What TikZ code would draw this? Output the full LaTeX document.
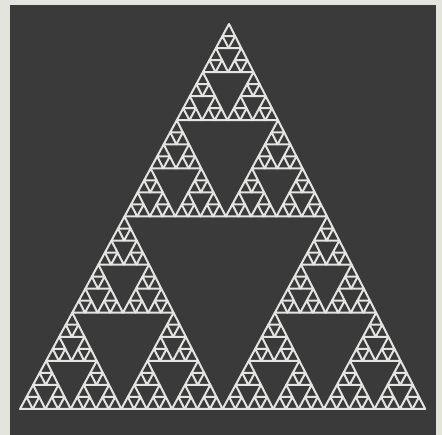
\documentclass[tikz,border=0pt]{standalone}
\usepackage{tikz}
\usepackage{xcolor}

\definecolor{paper}{HTML}{E4E4DE}
\definecolor{board}{HTML}{3A3A3A}
\definecolor{chalk}{HTML}{E4E4E2}

\begin{document}
\begin{tikzpicture}[x=1pt,y=-1pt,
    tri/.style={draw=chalk,line width=2pt,line join=round}]
  \useasboundingbox (0,0) rectangle (442,435);
  \fill[paper] (0,0) rectangle (442,435);
  \fill[board] (10,5) rectangle (436,435);

  % smallest triangles, one shift per level
  \begin{scope}[shift={(229,24)},x={(6.33pt,0pt)},y={(-0.2pt,-12.03pt)}]
    \foreach \ax/\ay in {0/0,-1/1,1/1}
    \foreach \bx/\by in {0/0,-1/1,1/1}
    \foreach \cx/\cy in {0/0,-1/1,1/1}
    \foreach \dx/\dy in {0/0,-1/1,1/1}
    \foreach \ex/\ey in {0/0,-1/1,1/1}
      \draw[tri,shift={(16*\ax+8*\bx+4*\cx+2*\dx+\ex,16*\ay+8*\by+4*\cy+2*\dy+\ey)}]
        (0,0) -- (-1,1) -- (1,1) -- cycle;
  \end{scope}
\end{tikzpicture}
\end{document}
